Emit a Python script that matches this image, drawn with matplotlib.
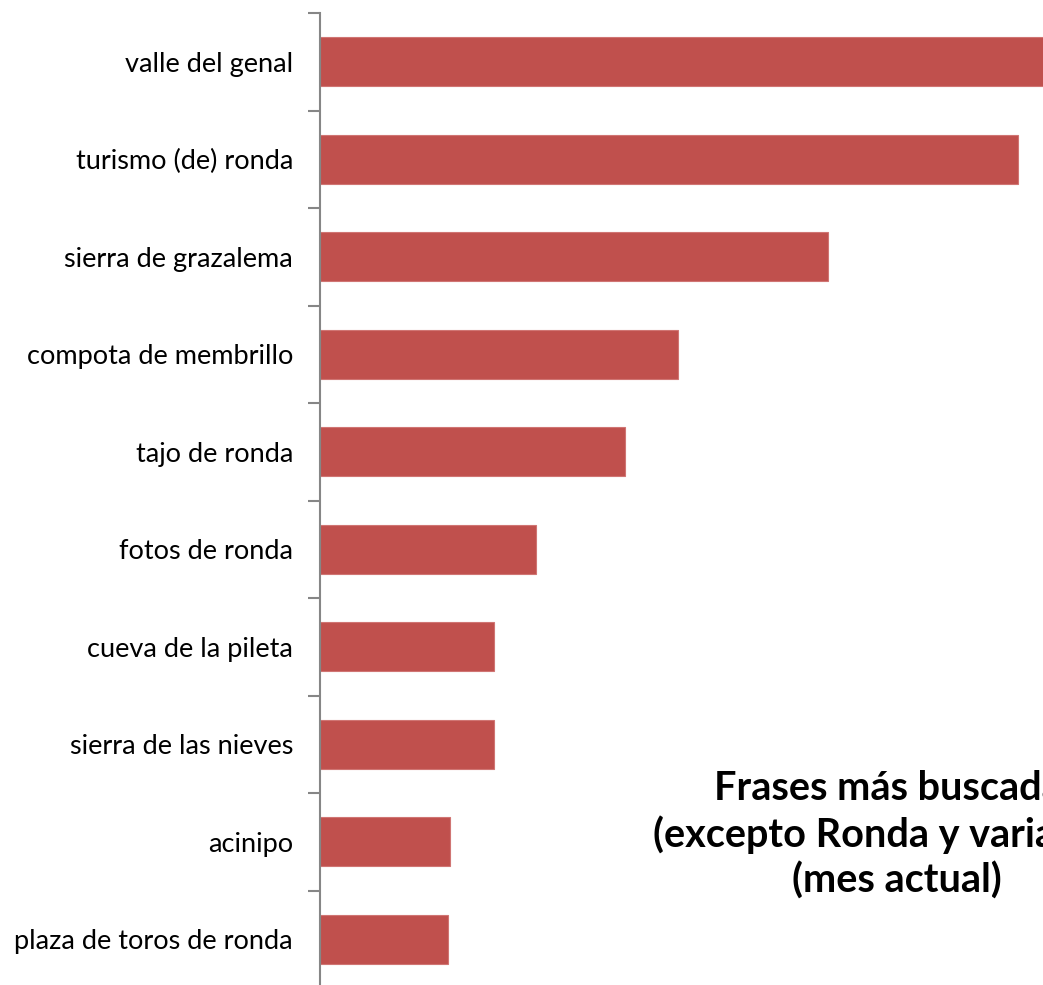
import matplotlib.pyplot as plt
import numpy as np

# Search phrases (top to bottom) and their relative counts
frases = ["valle del genal", "turismo (de) ronda", "sierra de grazalema",
          "compota de membrillo", "tajo de ronda", "fotos de ronda",
          "cueva de la pileta", "sierra de las nieves", "acinipo",
          "plaza de toros de ronda"]
valores = [760, 698, 508, 358, 305, 216, 174, 174, 130, 128]

titulo = "Frases más buscadas\n(excepto Ronda y variantes)\n(mes actual)"

fig = plt.figure(figsize=(10.43, 9.85), dpi=100)
ax = fig.add_axes([320 / 1043, -3 / 985, 1 - 320 / 1043, 1 - 10 / 985])

y = np.arange(len(frases))[::-1]
ax.barh(y, valores, height=0.5, color="#C0504D", edgecolor="#D07573", linewidth=0.8)

ax.set_xlim(0, 723)
ax.set_ylim(-0.5, len(frases) - 0.5)

# category boundaries as tick marks, labels centred between them
ax.set_yticks(np.arange(-0.5, len(frases), 1.0))
ax.set_yticklabels([])
ax.set_yticks(y, minor=True)
ax.set_yticklabels(frases, minor=True, fontsize=19.5, family="Lato")
ax.tick_params(axis="y", which="major", length=9, width=1.5, color="#868686", direction="out")
ax.tick_params(axis="y", which="minor", length=0, pad=19.5)

for side in ["top", "right", "bottom"]:
    ax.spines[side].set_visible(False)
ax.spines["left"].set_color("#868686")
ax.spines["left"].set_linewidth(1.5)
ax.set_xticks([])
ax.patch.set_alpha(0)

fig.text(897 / 1043, 1 - 835 / 985, titulo, ha="center", va="center",
         fontsize=28.5, fontweight="bold", family="Lato", linespacing=1.25)

fig.savefig("out.png", dpi=100)
